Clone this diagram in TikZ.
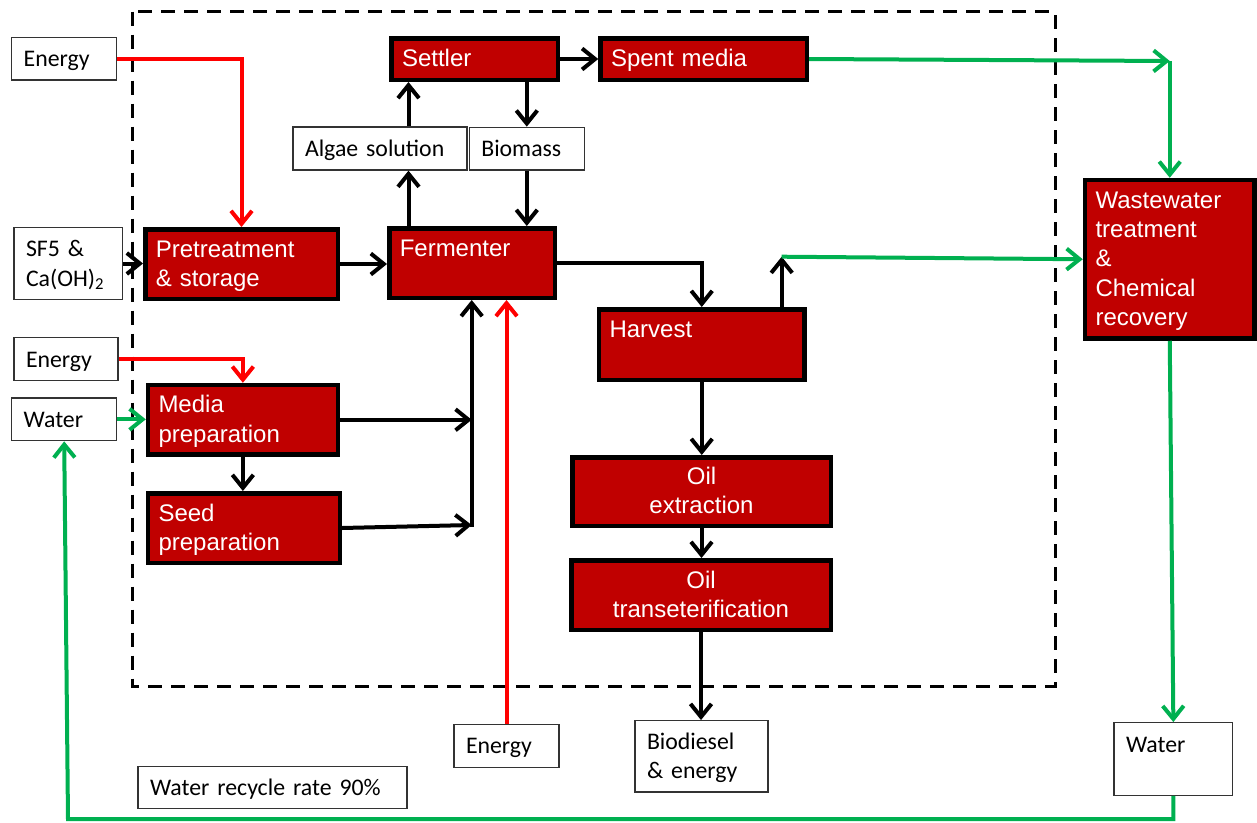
\documentclass[tikz,border=0pt]{standalone}
\usepackage{fontspec}
\usetikzlibrary{arrows.meta}
\newfontfamily\redfont{Liberation Sans}
\newfontfamily\whfont{Carlito}
\definecolor{boxred}{HTML}{C00000}
\definecolor{lnred}{HTML}{FF0000}
\definecolor{lngreen}{HTML}{00B050}
\newcommand\rs{\rule[-5.2pt]{0pt}{25.8pt}}
\newcommand\ws{\rule[-6pt]{0pt}{27.6pt}}
\newcommand\mybox[8]{%
  \pgfmathsetmacro\mbw{#6-#4}%
  \pgfmathsetmacro\mbh{#7-#5}%
  \pgfmathsetmacro\mbt{#6-#4-2*#3}%
  \node[#2, inner xsep=#3pt, minimum width=\mbw pt, minimum height=\mbh pt, text width=\mbt pt] (#1) at ({(#4+#6)/2},{(#5+#7)/2}) {#8};}
\tikzset{
  redbox/.style={draw=black, fill=boxred, line width=4.5pt, text=white,
    font=\redfont\fontsize{24}{29.3}\selectfont, align=left, inner ysep=0pt},
  whbox/.style={draw=black!80, line width=1.3pt, fill=white,
    font=\whfont\fontsize{23.8}{29.5}\selectfont, align=left, inner ysep=0pt},
  arr/.style={line width=4pt, -{Straight Barb[length=13pt,width=21pt]}},
  blkarr/.style={arr, draw=black},
  redarr/.style={arr, draw=lnred},
  grnarr/.style={arr, draw=lngreen},
  sysbound/.style={line width=3pt, dash pattern=on 14pt off 9pt}
}
\begin{document}
\begin{tikzpicture}[x=1pt,y=-1pt]
\fill[white] (0,0) rectangle (1257,822);
\useasboundingbox (0,0) rectangle (1257,822);
\draw[sysbound] (132.7,11.7) rectangle (1055,686);
% red process boxes
\mybox{pre}{redbox}{10.5}{145.25}{229.25}{337.75}{298.75}{\rs Pretreatment\\\rs\& storage}
\mybox{fer}{redbox}{10.5}{389.25}{228.25}{554.75}{297.75}{\rs Fermenter\\\rs}
\mybox{set}{redbox}{10.5}{391.5}{38.25}{557.75}{79.75}{\rs Settler}
\mybox{spent}{redbox}{10.5}{600.5}{38.25}{806.75}{79.75}{\rs Spent media}
\mybox{media}{redbox}{10.5}{148}{385}{337.75}{454.5}{\rs Media\\\rs preparation}
\mybox{seed}{redbox}{10.5}{148}{493.25}{339.75}{562.75}{\rs Seed\\\rs preparation}
\mybox{harv}{redbox}{10.5}{599}{309.25}{804.5}{379.75}{\rs Harvest\\\rs}
\mybox{oilx}{redbox,align=center}{10.5}{572.25}{457.25}{830.75}{525.75}{\rs Oil\\\rs extraction}
\mybox{oilt}{redbox,align=center}{10.5}{571.25}{560.25}{830.75}{629.75}{\rs Oil\\\rs transeterification}
\mybox{ww}{redbox}{10.5}{1085}{180}{1254.5}{338.5}{\rs Wastewater\\\rs treatment\\\rs\&\\\rs Chemical\\\rs recovery}
% white boxes
\mybox{e1}{whbox}{12}{11.7}{37.7}{116.7}{80}{\ws Energy}
\mybox{sf}{whbox}{12}{14}{227.7}{122.7}{299.3}{\ws SF5 \&\\\ws Ca(OH)\textsubscript{2}}
\mybox{e2}{whbox}{12}{14}{337.7}{118}{380.7}{\ws Energy}
\mybox{w1}{whbox}{12}{11.7}{398}{116.7}{440.7}{\ws Water}
\mybox{alg}{whbox}{12}{293}{127}{467}{170}{\ws Algae solution}
\mybox{bio}{whbox}{12}{469.3}{127.3}{584.3}{170}{\ws Biomass}
\mybox{e3}{whbox}{12}{454}{724.5}{559}{767.7}{\ws Energy}
\mybox{bd}{whbox}{12}{635}{720.7}{768}{792}{\ws Biodiesel\\\ws\& energy}
\mybox{wr}{whbox}{12}{138}{766.7}{407}{808.3}{\ws Water recycle rate 90\%}
\mybox{w2}{whbox}{12}{1114}{722.7}{1232.7}{795.3}{\ws Water\\\ws}
% connectors
\coordinate (pA) at (408.5,0);
\coordinate (c1) at (ww.north |- 0,61);
\coordinate (c2) at (781.7,256.7);
\coordinate (j1) at (471.7,0 |- media.east);
\coordinate (j2) at (471.7,525);
\coordinate (j3) at (471.7,527);
\coordinate (c3) at (68,819);
\draw[redarr] (e1.east) -| (pre.north);
\draw[blkarr] (sf.east) -- (sf.east -| pre.west);
\draw[blkarr] (pre.east) -- (pre.east -| fer.west);
\draw[blkarr] (fer.north -| pA) -- (alg.south -| pA);
\draw[blkarr] (alg.north -| pA) -- (set.south -| pA);
\draw[blkarr] (set.south -| bio.north) -- (bio.north);
\draw[blkarr] (bio.south) -- (bio.south |- fer.north);
\draw[blkarr] (set.east) -- (spent.west);
\draw[grnarr] (spent.east) -- (c1);
\draw[grnarr] (c1) -- (ww.north);
\draw[blkarr] (fer.east) -| (harv.north);
\draw[blkarr] (harv.north -| c2) -- (c2);
\draw[grnarr] (c2) -- (ww.west);
\draw[blkarr] (harv.south) -- (harv.south |- oilx.north);
\draw[blkarr] (oilx.south) -- (oilx.south |- oilt.north);
\draw[blkarr] (oilt.south) -- (oilt.south |- bd.north);
\draw[redarr] (e3.north) -- (e3.north |- fer.south);
\draw[redarr] (e2.east) -| (media.north);
\draw[grnarr] (w1.east) -- (w1.east -| media.west);
\draw[blkarr] (media.south) -- (media.south |- seed.north);
\draw[blkarr] (media.east) -- (j1);
\draw[blkarr] (seed.east) -- (j2);
\draw[blkarr] (j3) -- (j3 |- fer.south);
\draw[grnarr] (ww.south) -- (w2.north);
\draw[grnarr] (w2.south) |- (c3) -- (w1.south);
\end{tikzpicture}
\end{document}
